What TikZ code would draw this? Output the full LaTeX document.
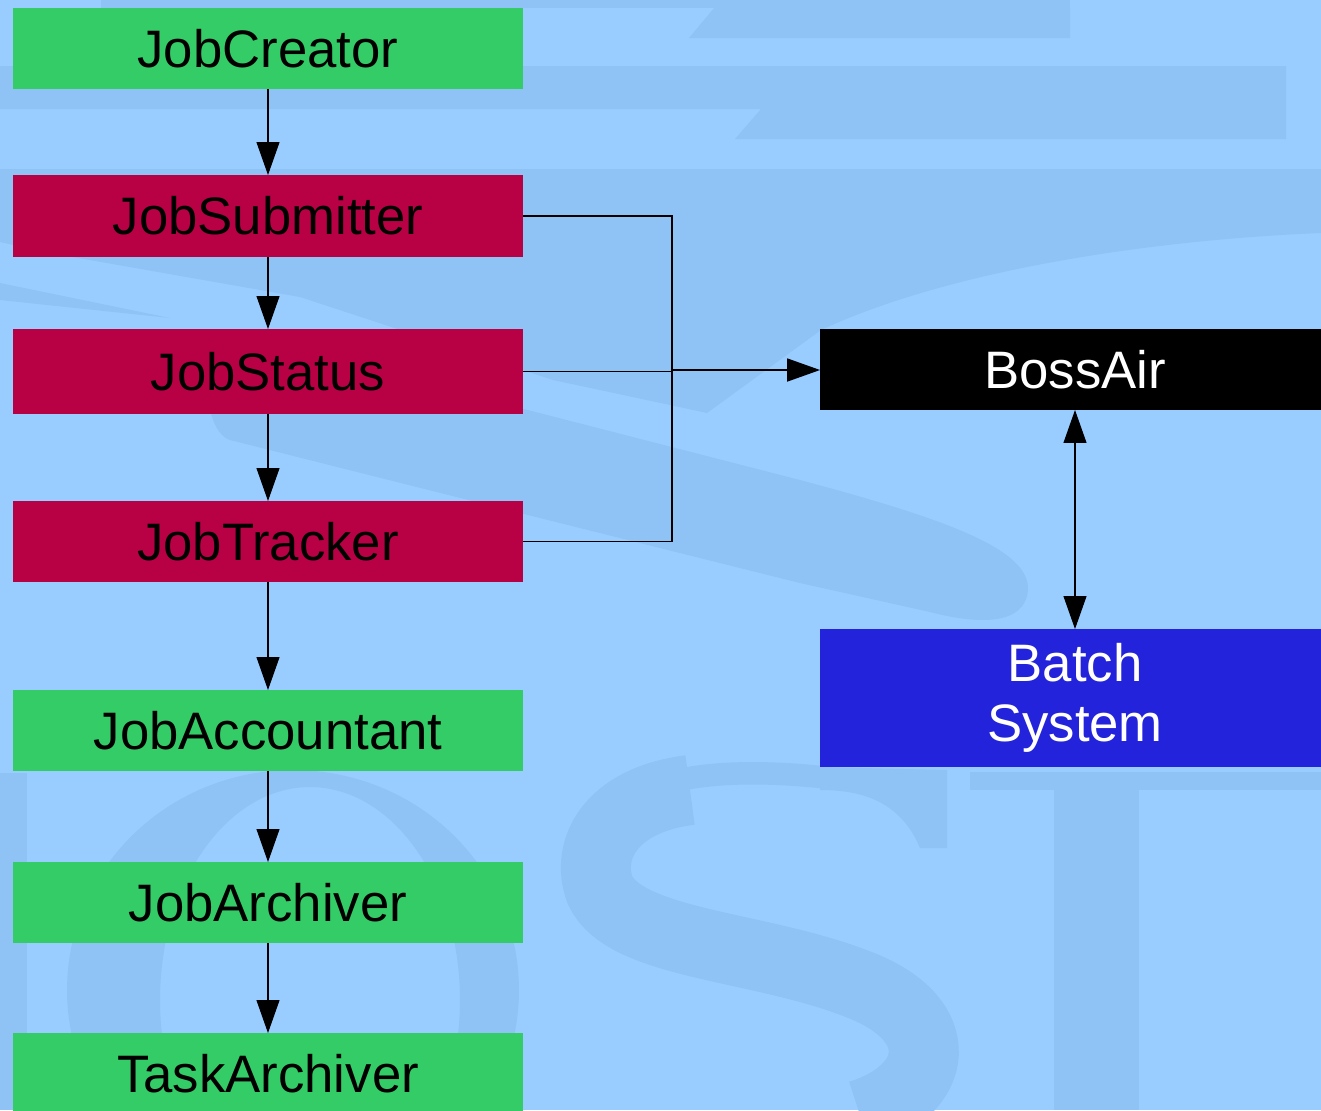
\documentclass[tikz,border=0pt]{standalone}
\usepackage{fontspec}
\setmainfont{Liberation Sans}
\usetikzlibrary{arrows.meta}
\definecolor{bgblue}{HTML}{99CCFF}
\definecolor{wmblue}{HTML}{8FC3F5}
\definecolor{jobgreen}{HTML}{33CC66}
\definecolor{jobred}{HTML}{B80045}
\definecolor{batchblue}{HTML}{2323DC}
\begin{document}
\begin{tikzpicture}[x=0.02cm,y=-0.02cm,
    box/.style={rectangle,minimum width=10.2cm,inner sep=0pt,outer sep=0pt,
      font=\fontsize{30}{34}\selectfont,align=center},
    wfbox/.style={box,fill=jobgreen,text=black},
    corebox/.style={box,fill=jobred,text=black},
    airbox/.style={box,fill=black,text=white},
    batchbox/.style={box,fill=batchblue,text=white},
    link/.style={draw=black,line width=0.6pt,-{Triangle[length=0.66cm,width=0.46cm]}},
    bus/.style={draw=black,line width=0.6pt},
    wm/.style={fill=wmblue}]
  \useasboundingbox (0,0) rectangle (1321,1110);
  \clip (0,0) rectangle (1321,1110);
  \fill[bgblue] (0,0) rectangle (1321,1110);
  % watermark
  \fill[wm] (101,0) rectangle (1070,8);
  \fill[wm] (714,8) -- (1070,8) -- (1070,38) -- (689,38) -- cycle;
  \fill[wm] (0,66) -- (1286,66) -- (1286,139) -- (735,139) -- (761,109) -- (0,109) -- cycle;
  \fill[wm] (0,169) -- (1321,169) -- (1321,233) .. controls (1150,240) and (950,270) .. (821,330)
    -- (707,413) -- (670,405) -- (553,380) -- (300,297) -- (50,253) -- (0,242) -- cycle;
  \fill[wm] (0,283) -- (170,318) -- (0,300) -- cycle;
  \fill[wm] (230,330) -- (520,408) -- (800,480) .. controls (950,520) and (1030,550) .. (1028,590)
    .. controls (1025,625) and (980,625) .. (930,612) -- (800,583) -- (520,513) -- (230,440)
    .. controls (200,430) and (200,340) .. (230,330) -- cycle;
  \fill[wm] (0,773) rectangle (27,1110);
  \fill[wm,even odd rule] (293,990) ellipse [x radius=4.52cm,y radius=4.4cm]
    (310,1000) ellipse [x radius=3cm,y radius=4.26cm];
  \fill[wm] (820,767) -- (947,770) -- (947,848) -- (920,848) .. controls (900,800) and (860,790) .. (820,790) -- cycle;
  \draw[wmblue,line width=0.45cm] (830,778) .. controls (760,770) and (700,772) .. (660,785);
  \draw[wmblue,line width=1.4cm] (690,790) .. controls (610,800) and (585,850) .. (600,890)
    .. controls (625,945) and (760,945) .. (860,985) .. controls (950,1020) and (940,1090) .. (860,1115);
  \fill[wm] (970,772) rectangle (1321,790);
  \fill[wm] (1054,772) rectangle (1139,1110);

  % job chain
  \node[wfbox,minimum height=1.62cm] (creator) at (268,48.5) {JobCreator};
  \node[corebox,minimum height=1.64cm] (submitter) at (268,216) {JobSubmitter};
  \node[corebox,minimum height=1.7cm] (status) at (268,371.5) {JobStatus};
  \node[corebox,minimum height=1.62cm] (tracker) at (268,541.5) {JobTracker};
  \node[wfbox,minimum height=1.62cm] (accountant) at (268,730.5) {JobAccountant};
  \node[wfbox,minimum height=1.62cm] (archiver) at (268,902.5) {JobArchiver};
  \node[wfbox,minimum height=1.64cm] (taskarch) at (268,1074) {TaskArchiver};

  \node[airbox,minimum height=1.62cm] (bossair) at (1075,369.5) {BossAir};
  \node[batchbox,minimum height=2.76cm] (batch) at (1075,698) {Batch\\System};

  \draw[link] (creator) -- (submitter);
  \draw[link] (submitter) -- (status);
  \draw[link] (status) -- (tracker);
  \draw[link] (tracker) -- (accountant);
  \draw[link] (accountant) -- (archiver);
  \draw[link] (archiver) -- (taskarch);

  \coordinate (jn) at (672,370);
  \draw[bus] (submitter.east) -| (jn);
  \draw[bus] (tracker.east) -| (jn);
  \draw[bus] (status.east) -- (status.east -| jn);
  \draw[link,line width=1pt] (jn) -- (jn -| bossair.west);
  \draw[link,{Triangle[length=0.66cm,width=0.46cm]}-{Triangle[length=0.66cm,width=0.46cm]}] (bossair) -- (batch);
\end{tikzpicture}
\end{document}
